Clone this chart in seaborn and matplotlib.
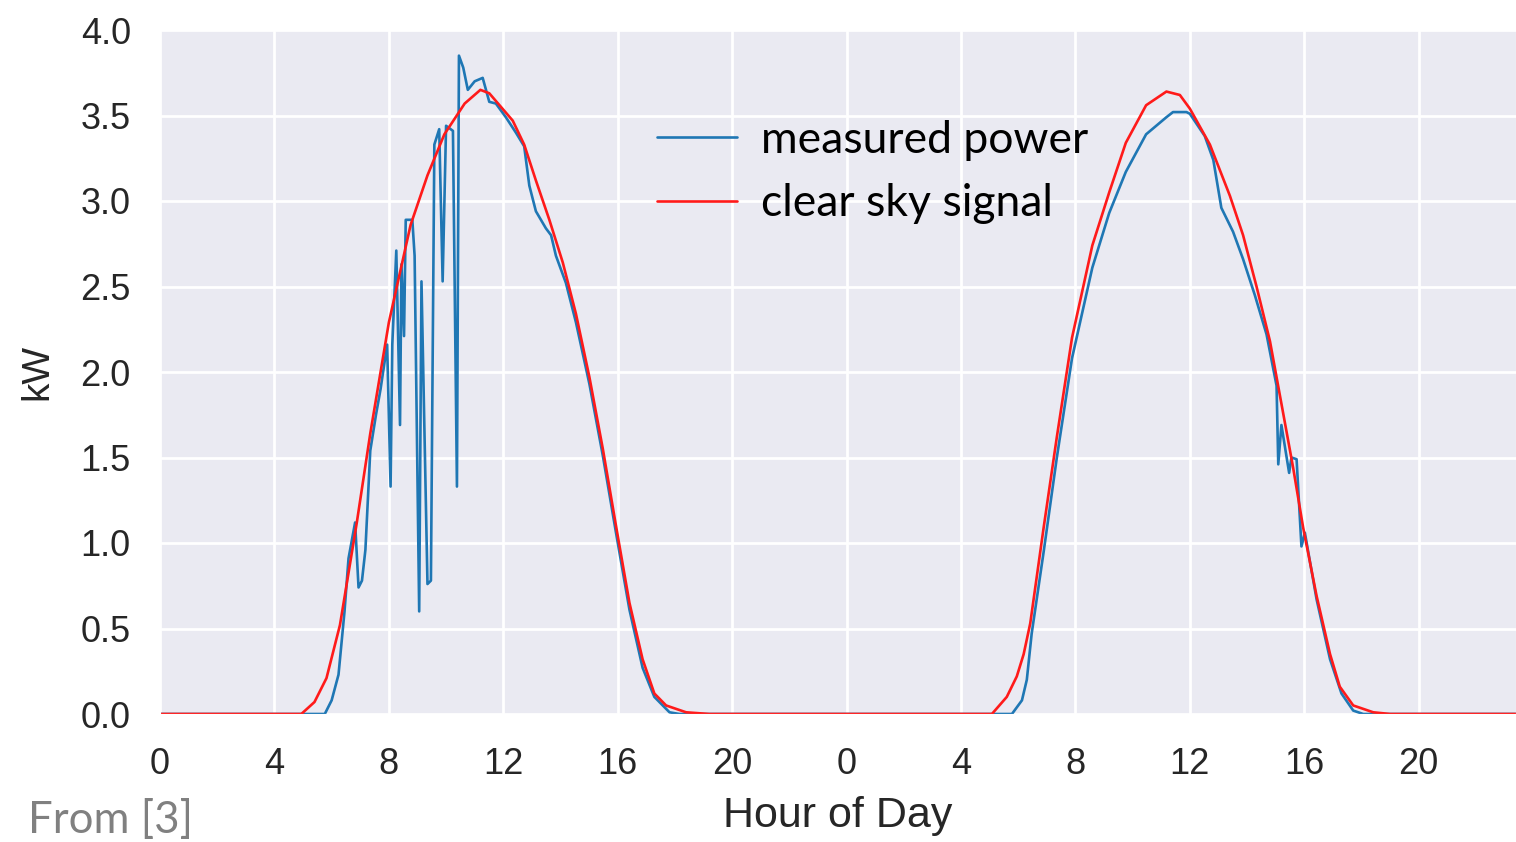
import numpy as np
import pandas as pd
import matplotlib
matplotlib.use("Agg")
import matplotlib.pyplot as plt
import seaborn as sns

# Measured PV power (kW) over two days, hour since start of day 1
meas_hours = [0.0, 5.76, 6.0, 6.24, 6.45, 6.59, 6.82, 6.94, 7.06, 7.18,
              7.35, 7.55, 7.71, 7.94, 8.06, 8.12, 8.26, 8.39, 8.44, 8.53,
              8.59, 8.82, 8.9, 9.06, 9.14, 9.35, 9.47, 9.59, 9.76, 9.88,
              10.0, 10.24, 10.38, 10.45, 10.6, 10.76, 11.0, 11.28, 11.51, 11.74,
              12.09, 12.44, 12.73, 12.91, 13.14, 13.49, 13.67, 13.84, 14.19, 14.54,
              15.01, 15.48, 15.94, 16.41, 16.87, 17.28, 17.81, 18.16,
              29.78, 30.13, 30.3, 30.47, 30.89, 31.35, 31.88, 32.59, 33.18, 33.76,
              34.47, 35.18, 35.41, 35.88, 36.0, 36.52, 36.82, 37.1, 37.51, 37.86,
              38.27, 38.68, 39.03, 39.09, 39.2, 39.47, 39.55, 39.73, 39.9, 40.02,
              40.43, 40.9, 41.3, 41.71, 42.06, 47.5]
meas_kw = [0.0, 0.0, 0.08, 0.23, 0.6, 0.91, 1.12, 0.74, 0.78, 0.96,
           1.54, 1.75, 1.90, 2.16, 1.33, 2.16, 2.71, 1.69, 2.63, 2.21,
           2.89, 2.89, 2.68, 0.6, 2.53, 0.76, 0.78, 3.33, 3.42, 2.53,
           3.44, 3.41, 1.33, 3.85, 3.78, 3.65, 3.70, 3.72, 3.58, 3.57,
           3.49, 3.40, 3.32, 3.09, 2.94, 2.84, 2.80, 2.68, 2.52, 2.29,
           1.93, 1.51, 1.06, 0.61, 0.27, 0.10, 0.01, 0.0,
           0.0, 0.08, 0.2, 0.47, 0.95, 1.50, 2.08, 2.61, 2.93, 3.17,
           3.39, 3.49, 3.52, 3.52, 3.51, 3.38, 3.24, 2.96, 2.82, 2.66,
           2.45, 2.22, 1.92, 1.46, 1.69, 1.41, 1.50, 1.49, 0.98, 1.06,
           0.67, 0.32, 0.12, 0.02, 0.0, 0.0]

# Clear sky signal (kW)
cs_hours = [0.0, 4.94, 5.4, 5.82, 6.29, 6.88, 7.35, 7.82, 8.0, 8.76,
            9.35, 9.94, 10.65, 11.2, 11.51, 12.33, 12.73, 13.14, 13.61, 14.08,
            14.54, 15.01, 15.48, 15.94, 16.41, 16.87, 17.28, 17.69, 18.39, 19.2,
            29.08, 29.6, 29.95, 30.19, 30.42, 30.88, 31.35, 31.88, 32.59, 33.18,
            33.76, 34.47, 35.18, 35.65, 36.0, 36.7, 37.4, 37.86, 38.33, 38.8,
            39.26, 39.61, 39.96, 40.43, 40.9, 41.24, 41.71, 42.41, 43.0, 47.5]
cs_kw = [0.0, 0.0, 0.07, 0.21, 0.52, 1.12, 1.64, 2.11, 2.29, 2.86,
         3.15, 3.39, 3.57, 3.65, 3.63, 3.47, 3.33, 3.12, 2.89, 2.64,
         2.34, 1.97, 1.55, 1.10, 0.65, 0.32, 0.12, 0.05, 0.01, 0.0,
         0.0, 0.10, 0.22, 0.35, 0.53, 1.08, 1.62, 2.20, 2.74, 3.05,
         3.34, 3.56, 3.64, 3.62, 3.54, 3.33, 3.03, 2.80, 2.50, 2.18,
         1.76, 1.44, 1.09, 0.69, 0.35, 0.16, 0.05, 0.01, 0.0, 0.0]

tick_hours = list(range(0, 48, 4))
tick_labels = [str(h % 24) for h in tick_hours]

sns.set_style("darkgrid")
plt.rcParams["font.family"] = ["Liberation Sans", "DejaVu Sans"]

meas = pd.DataFrame({"hour": meas_hours, "kW": meas_kw})
clear = pd.DataFrame({"hour": cs_hours, "kW": cs_kw})

fig = plt.figure(figsize=(15.16, 8.42), dpi=100)
ax = fig.add_axes([160 / 1516, 1 - 714 / 842, 1 - 160 / 1516, (714 - 30) / 842])

sns.lineplot(data=meas, x="hour", y="kW", ax=ax, color="#1f77b4",
             linewidth=1.9, label="measured power")
sns.lineplot(data=clear, x="hour", y="kW", ax=ax, color="#ff1a1a",
             linewidth=1.9, label="clear sky signal")

ax.set_xlim(0, 47.4)
ax.set_ylim(0, 4.0)
ax.set_xticks(tick_hours)
ax.set_xticklabels(tick_labels)
ax.set_yticks(np.arange(0, 4.01, 0.5))
ax.set_yticklabels([f"{v:.1f}" for v in np.arange(0, 4.01, 0.5)])
ax.grid(color="white", linewidth=2.0)
ax.tick_params(axis="both", labelsize=26, colors="#262626", length=0)
ax.tick_params(axis="x", pad=24)
ax.tick_params(axis="y", pad=21)
ax.set_xlabel("Hour of Day", fontsize=31, color="#262626", labelpad=10)
ax.set_ylabel("kW", fontsize=28, color="#262626", labelpad=18)

leg = ax.legend(loc="upper left", bbox_to_anchor=(657 / 1516, 1 - 120 / 842),
                bbox_transform=fig.transFigure, frameon=False, borderpad=0,
                borderaxespad=0, handlelength=1.8, handletextpad=0.55,
                labelspacing=0.5, prop={"family": "Lato", "size": 32})
for t in leg.get_texts():
    t.set_color("black")

fig.text(28 / 1516, 1 - 833 / 842, "From [3]", fontsize=31.5, color="#808080",
         family="Lato", va="baseline", ha="left")

fig.savefig("out.png", dpi=100)
